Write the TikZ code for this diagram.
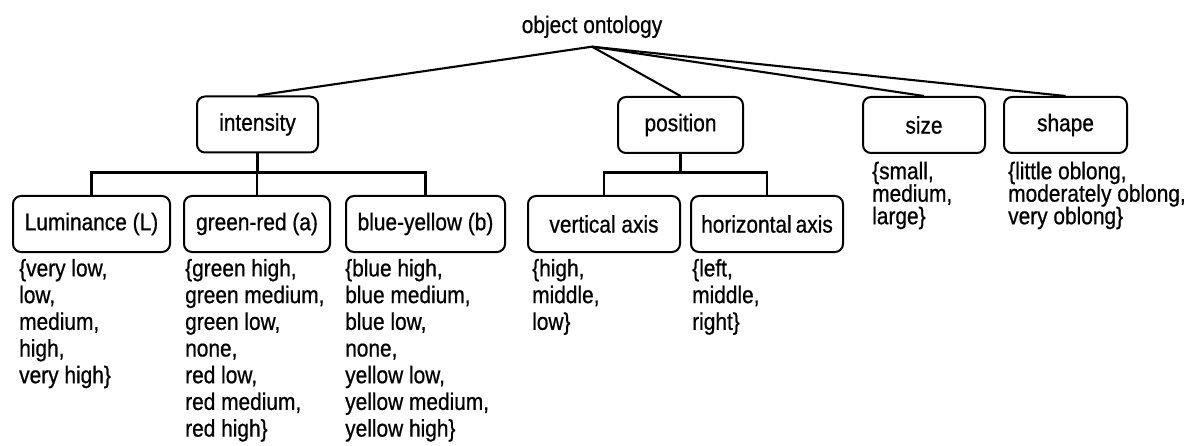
\documentclass[tikz,border=0pt]{standalone}
\usepackage{fontspec}
\setmainfont{Liberation Sans}[FakeStretch=0.87,FakeBold=0.7]
\begin{document}
\begin{tikzpicture}[x=1pt,y=-1pt,
  box/.style={draw, line width=2pt, rounded corners=8pt, minimum height=56pt,
    inner sep=0pt, font=\fontsize{24}{26}\selectfont},
  lst/.style={anchor=north west, align=left, inner sep=0pt,
    font=\fontsize{24}{26.7}\selectfont},
  lsts/.style={anchor=north west, align=left, inner sep=0pt,
    font=\fontsize{24}{22.5}\selectfont},
  conn/.style={line width=2.1pt}]
\useasboundingbox[fill=white] (0,0) rectangle (1190,446);
\newcommand{\fst}{\rule{0pt}{18.6pt}}
% root
\node[anchor=base, inner xsep=0pt, inner ysep=8.5pt, font=\fontsize{24}{26}\selectfont] (root) at (592,33) {object ontology};
% level 1
\node[box, minimum width=121pt] (intensity) at (257.5,124.5) {intensity};
\node[box, minimum width=125pt] (position) at (680.5,125) {position};
\node[box, minimum width=122pt] (size) at (924,125) {size};
\node[box, minimum width=123pt] (shape) at (1065.5,125) {shape};
% level 2
\node[box, minimum width=157pt] (lum) at (91.5,224) {Luminance (L)};
\node[box, minimum width=146pt] (gr) at (257,224) {green-red (a)};
\node[box, minimum width=159pt] (by) at (425.5,224) {blue-yellow (b)};
\node[box, minimum width=152pt] (vert) at (604,224) {vertical axis};
\node[box, minimum width=152pt] (horiz) at (767,224) {horizontal\,axis};
% connectors from root
\draw[conn] (root.south) -- (intensity.north);
\draw[conn] (root.south) -- (position.north);
\draw[conn] (root.south) -- (size.north);
\draw[conn] (root.south) -- (shape.north);
% intensity tree
\coordinate (ibar) at (257.5,172.5);
\draw[conn] (intensity.south) -- (intensity.south |- ibar);
\draw[conn] (lum.north) -- (lum.north |- ibar) -- (by.north |- ibar) -- (by.north);
\draw[conn] (gr.north) -- (gr.north |- ibar);
% position tree
\coordinate (pbar) at (680.5,172.5);
\draw[conn] (position.south) -- (position.south |- pbar);
\draw[conn] (vert.north) -- (vert.north |- pbar) -- (horiz.north |- pbar) -- (horiz.north);
% value lists
\node[lst] (lumv) at (19,257.6) {\fst\{very low,\\low,\\medium,\\high,\\very high\}};
\node[lst] (grv) at (185,257.6) {\fst\{green high,\\green medium,\\green low,\\none,\\red low,\\red medium,\\red high\}};
\node[lst] (byv) at (345,257.6) {\fst\{blue high,\\blue medium,\\blue low,\\none,\\yellow low,\\yellow medium,\\yellow high\}};
\node[lst] (vertv) at (532,257.6) {\fst\{high,\\middle,\\low\}};
\node[lst] (horizv) at (692,257.6) {\fst\{left,\\middle,\\right\}};
\node[lsts] (sizev) at (872,160.4) {\fst\{small,\\medium,\\large\}};
\node[lsts] (shapev) at (1008,160.4) {\fst\{little oblong,\\moderately oblong,\\very oblong\}};
\end{tikzpicture}
\end{document}
